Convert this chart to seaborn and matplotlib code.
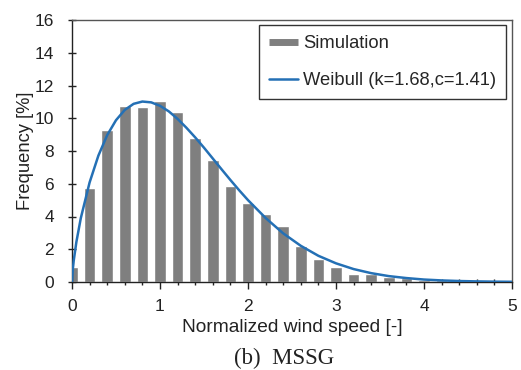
import numpy as np
import pandas as pd
import matplotlib
matplotlib.use("Agg")
import matplotlib.pyplot as plt
from matplotlib.lines import Line2D
from matplotlib.ticker import MultipleLocator
import seaborn as sns

# ---- data ----
speed_bins = [0.0, 0.2, 0.4, 0.6, 0.8, 1.0, 1.2, 1.4, 1.6, 1.8, 2.0, 2.2, 2.4,
              2.6, 2.8, 3.0, 3.2, 3.4, 3.6, 3.8, 4.0, 4.2, 4.4, 4.6, 4.8]
sim_freq = [0.89, 5.72, 9.30, 10.73, 10.69, 11.07, 10.40, 8.81, 7.45, 5.86,
            4.82, 4.15, 3.44, 2.20, 1.40, 0.90, 0.50, 0.50, 0.33, 0.23,
            0.15, 0.10, 0.06, 0.04, 0.02]

curve_x = [0.0, 0.01, 0.02, 0.05, 0.1, 0.2, 0.3, 0.4, 0.5, 0.6, 0.7, 0.8, 0.9,
           1.0, 1.1, 1.2, 1.3, 1.4, 1.5, 1.6, 1.7, 1.8, 1.9, 2.0, 2.2, 2.4,
           2.6, 2.8, 3.0, 3.2, 3.4, 3.6, 3.8, 4.0, 4.2, 4.4, 4.6, 4.8, 5.0]
curve_y = [0.0, 0.82, 1.32, 2.45, 3.90, 6.08, 7.72, 8.97, 9.88, 10.51, 10.88,
           11.02, 10.97, 10.76, 10.42, 9.96, 9.42, 8.83, 8.20, 7.54, 6.88,
           6.23, 5.60, 5.00, 3.91, 2.97, 2.21, 1.60, 1.14, 0.79, 0.54, 0.36,
           0.24, 0.15, 0.096, 0.060, 0.036, 0.021, 0.012]

sim_label = "Simulation"
fit_label = "Weibull (k=1.68,c=1.41)"
x_label = "Normalized wind speed [-]"
y_label = "Frequency [%]"
caption = "(b)  MSSG"

bar_color = "#7f7f7f"
line_color = "#2470b5"
ink = "#222222"

sns.set_theme(style="ticks")
plt.rcParams["font.family"] = ["Liberation Sans", "DejaVu Sans"]

fig = plt.figure(figsize=(5.21, 3.70), dpi=100)
ax = fig.add_axes([72 / 521, 1 - 282 / 370, (512 - 72) / 521, (282 - 20) / 370])

bars = pd.DataFrame({"x": speed_bins, "y": sim_freq})
sns.barplot(data=bars, x="x", y="y", native_scale=True, width=0.66,
            color=bar_color, saturation=1, ax=ax, zorder=2)

curve = pd.DataFrame({"x": curve_x, "y": curve_y})
sns.lineplot(data=curve, x="x", y="y", color=line_color, lw=1.8, ax=ax,
             zorder=3)

ax.set_xlim(0, 5)
ax.set_ylim(0, 16)
ax.xaxis.set_major_locator(MultipleLocator(1))
ax.xaxis.set_minor_locator(MultipleLocator(0.2))
ax.yaxis.set_major_locator(MultipleLocator(2))
ax.tick_params(axis="both", which="major", labelsize=12.5, colors=ink,
               length=6, width=1, direction="inout")
ax.tick_params(axis="x", which="minor", length=5, width=1, direction="inout",
               color=ink)
ax.tick_params(axis="x", which="major", length=5, direction="out", pad=7)
ax.tick_params(axis="y", which="major", pad=10)
for s in ax.spines.values():
    s.set_color(ink)
    s.set_linewidth(1.0)
ax.spines["top"].set_color("#555555")
ax.spines["right"].set_color("#555555")

ax.set_xlabel(x_label, fontsize=13.8, color=ink, labelpad=4)
ax.set_ylabel(y_label, fontsize=13.2, color=ink, labelpad=0.5)

handles = [Line2D([0], [0], color=bar_color, lw=5, solid_capstyle="butt"),
           Line2D([0], [0], color=line_color, lw=1.8)]
leg = ax.legend(handles, [sim_label, fit_label], loc="upper right",
                bbox_to_anchor=((506 - 72) / 440, (282 - 25) / 262),
                fontsize=13.2, frameon=True, fancybox=False, framealpha=1,
                edgecolor="#333333", handlelength=1.55, handletextpad=0.27,
                labelspacing=1.1, borderpad=0.55, borderaxespad=0)
leg.get_frame().set_linewidth(1.0)

fig.text(284 / 521, 1 - 358 / 370, caption, ha="center", va="center",
         fontsize=16.5, family=["Liberation Serif", "DejaVu Serif"],
         color=ink)

fig.savefig("out.png", dpi=100, facecolor="white")
